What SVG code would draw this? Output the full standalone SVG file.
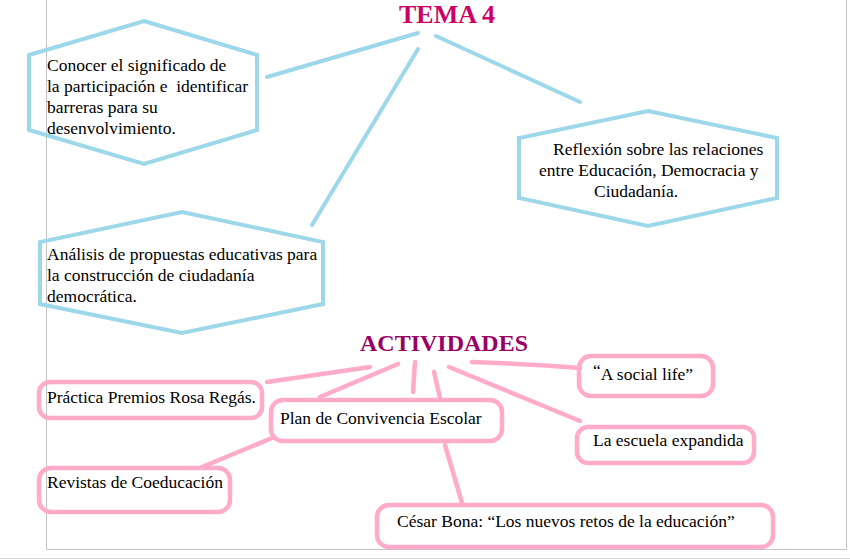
<svg xmlns="http://www.w3.org/2000/svg" width="850" height="560" viewBox="0 0 850 560">
<style>
.bg{fill:#ffffff}
.page{stroke:#c3c3c3;stroke-width:1;fill:none}
.hex{fill:none;stroke:#9dd7ea;stroke-width:4;stroke-linejoin:miter}
.box{fill:none;stroke:#ffabc9;stroke-width:4.5}
.bl{stroke:#9dd7ea;stroke-width:4;stroke-linecap:round;fill:none}
.pk{stroke:#ffabc9;stroke-width:4.5;stroke-linecap:round;fill:none}
.t{font-family:"Liberation Serif","Times New Roman",serif;font-size:17.5px;fill:#000}
.title{font-family:"Liberation Serif","Times New Roman",serif;font-weight:bold}
</style>
<rect class="bg" x="0" y="0" width="850" height="560"/>
<g id="page">
<path class="page" d="M46.5,0 V549.5 H846.5 V0"/>
<path d="M0,558.5 H850" stroke="#d4d4d4" stroke-width="1"/>
</g>
<g id="connectors">
<line class="bl" x1="267" y1="77" x2="418" y2="33"/>
<line class="bl" x1="418" y1="49" x2="312" y2="225"/>
<line class="bl" x1="436" y1="36" x2="580" y2="102"/>
<line class="pk" x1="267" y1="382" x2="370" y2="367"/>
<line class="pk" x1="320" y1="397" x2="398" y2="364"/>
<line class="pk" x1="413" y1="392" x2="415" y2="362"/>
<line class="pk" x1="434" y1="372" x2="440" y2="398"/>
<line class="pk" x1="449" y1="367" x2="580" y2="421"/>
<path class="pk" d="M472,362 Q530,364 580,368"/>
<line class="pk" x1="272" y1="438" x2="202" y2="467"/>
<line class="pk" x1="445" y1="445" x2="462" y2="503"/>
</g>
<g id="tema4">
<text class="title" x="399" y="23" font-size="26" fill="#cc0066">TEMA 4</text>
</g>
<g id="conocer">
<polygon class="hex" points="144,21 257,55 257,130 144,164 29,130 29,55"/>
<text class="t" x="47" y="71">Conocer el significado de</text>
<text class="t" x="47" y="92" style="white-space:pre">la participación e  identificar</text>
<text class="t" x="47" y="113">barreras para su</text>
<text class="t" x="47" y="134">desenvolvimiento.</text>
</g>
<g id="reflexion">
<polygon class="hex" points="648,111 777,138 777,198 648,226 519,198 519,138"/>
<text class="t" x="553" y="155">Reflexión sobre las relaciones</text>
<text class="t" x="539" y="176">entre Educación, Democracia y</text>
<text class="t" x="594" y="197">Ciudadanía.</text>
</g>
<g id="analisis">
<polygon class="hex" points="182,212 323,242 323,304 182,333 40,304 40,242"/>
<text class="t" x="47" y="260">Análisis de propuestas educativas para</text>
<text class="t" x="47" y="281">la construcción de ciudadanía</text>
<text class="t" x="47" y="302">democrática.</text>
</g>
<g id="actividades">
<text class="title" x="360" y="351" font-size="24" fill="#990066">ACTIVIDADES</text>
</g>
<g id="practica">
<rect class="box" x="39" y="382" width="223" height="36" rx="11"/>
<text class="t" x="47" y="403">Práctica Premios Rosa Regás.</text>
</g>
<g id="plan">
<rect class="box" x="271" y="400" width="231" height="41" rx="12"/>
<text class="t" x="280" y="424">Plan de Convivencia Escolar</text>
</g>
<g id="revistas">
<rect class="box" x="39" y="468" width="191" height="44" rx="12"/>
<text class="t" x="47" y="488">Revistas de Coeducación</text>
</g>
<g id="cesar">
<rect class="box" x="377" y="505" width="396" height="42" rx="12"/>
<text class="t" x="397" y="527">César Bona: “Los nuevos retos de la educación”</text>
</g>
<g id="social">
<rect class="box" x="579" y="356" width="134" height="40" rx="12"/>
<text class="t" x="593" y="380"><tspan dy="-4">“</tspan><tspan dy="4">A social life”</tspan></text>
</g>
<g id="escuela">
<rect class="box" x="577" y="427" width="177" height="36" rx="11"/>
<text class="t" x="593" y="446">La escuela expandida</text>
</g>
</svg>
